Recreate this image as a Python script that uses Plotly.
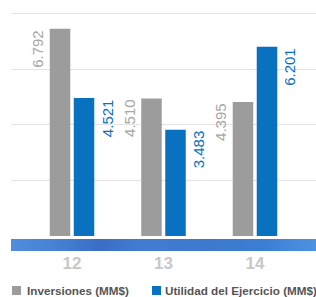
import plotly.graph_objects as go

categories = ["12", "13", "14"]
inversiones = [6.792, 4.510, 4.395]
utilidad = [4.521, 3.483, 6.201]
inv_labels = ["6.792", "4.510", "4.395"]
uti_labels = ["4.521", "3.483", "6.201"]
legend_names = ["Inversiones (MM$)", "Utilidad del Ejercicio (MM$)"]

GRAY = "#9c9c9c"
BLUE = "#0872c0"
FONT = "Liberation Sans, Arial, sans-serif"

W, H = 316, 297
ML, MR, MT, MB = 11, 0, 10, 61
PW, PH = W - ML - MR, H - MT - MB

def px(x):
    return (x - ML) / PW

def py(y):
    return (H - MB - y) / PH

fig = go.Figure()
fig.add_trace(go.Bar(x=categories, y=inversiones, name=legend_names[0],
                     marker=dict(color=GRAY, line=dict(width=0)), showlegend=False,
                     hoverinfo="skip"))
fig.add_trace(go.Bar(x=categories, y=utilidad, name=legend_names[1],
                     marker=dict(color=BLUE, line=dict(width=0)), showlegend=False,
                     hoverinfo="skip"))

annotations = []
for i, (v, t) in enumerate(zip(inversiones, inv_labels)):
    annotations.append(dict(x=i, y=v, xref="x", yref="y", text=t, showarrow=False,
                            textangle=-90, xanchor="center", yanchor="top",
                            xshift=-34, yshift=1,
                            font=dict(family=FONT, size=15, color="#a6a6a6")))
for i, (v, t) in enumerate(zip(utilidad, uti_labels)):
    annotations.append(dict(x=i, y=v, xref="x", yref="y", text=t, showarrow=False,
                            textangle=-90, xanchor="center", yanchor="top",
                            xshift=35, yshift=1,
                            font=dict(family=FONT, size=15, color="#0a6fc2")))

# textured blue band below the bars (horizontal colour gradient)
band_stops = [(11, (80, 142, 220)), (60, (70, 128, 212)), (100, (58, 110, 196)),
              (140, (66, 124, 208)), (200, (62, 122, 206)), (260, (58, 126, 212)),
              (316, (78, 146, 226))]
shapes = []
seg = 3
x = 11
while x < 316:
    x2 = min(x + seg, 316)
    xm = (x + x2) / 2
    for (a, ca), (b, cb) in zip(band_stops[:-1], band_stops[1:]):
        if a <= xm <= b:
            f = (xm - a) / (b - a)
            c = tuple(int(ca[k] + (cb[k] - ca[k]) * f) for k in range(3))
            break
    shapes.append(dict(type="rect", xref="paper", yref="paper", x0=px(x), x1=px(x2 + 0.5),
                       y0=py(239), y1=py(251), fillcolor="rgb(%d,%d,%d)" % c,
                       line=dict(width=0), layer="above"))
    x = x2

shapes += [
    dict(type="rect", xref="paper", yref="paper", x0=px(12), x1=px(21),
         y0=py(286), y1=py(295), fillcolor=GRAY, line=dict(width=0)),
    dict(type="rect", xref="paper", yref="paper", x0=px(152), x1=px(161),
         y0=py(286), y1=py(295), fillcolor=BLUE, line=dict(width=0)),
]
annotations.append(dict(x=px(25), y=py(290.5), xref="paper", yref="paper",
                        text="<b>" + legend_names[0] + "</b>", showarrow=False,
                        xanchor="left", yanchor="middle",
                        font=dict(family=FONT, size=11.7, color="#555555")))
annotations.append(dict(x=px(163), y=py(290.5), xref="paper", yref="paper",
                        text="<b>" + legend_names[1] + "</b>", showarrow=False,
                        xanchor="left", yanchor="middle",
                        font=dict(family=FONT, size=11.7, color="#555555")))

fig.update_layout(
    width=W, height=H,
    margin=dict(l=ML, r=MR, t=MT, b=MB, pad=0),
    paper_bgcolor="white", plot_bgcolor="white",
    barmode="group", bargap=0.475, bargroupgap=0.146,
    showlegend=False,
    xaxis=dict(type="category", range=[-0.667, 2.667], showgrid=False, zeroline=False,
               showline=False, ticks="outside", ticklen=12, tickcolor="rgba(0,0,0,0)",
               tickfont=dict(family=FONT, size=17, color="#c8c8c8", weight="bold")),
    yaxis=dict(range=[0, PH / 30.5], showticklabels=False, zeroline=False, showline=False,
               showgrid=True, gridcolor="#e4e4e4", gridwidth=1,
               tickvals=[1.82, 3.64, 5.46, 7.28]),
    shapes=shapes,
    annotations=annotations,
)

fig.write_html("out.html", config={"displayModeBar": False},
               post_script="document.body.style.margin='0';document.body.style.overflow='hidden';")
